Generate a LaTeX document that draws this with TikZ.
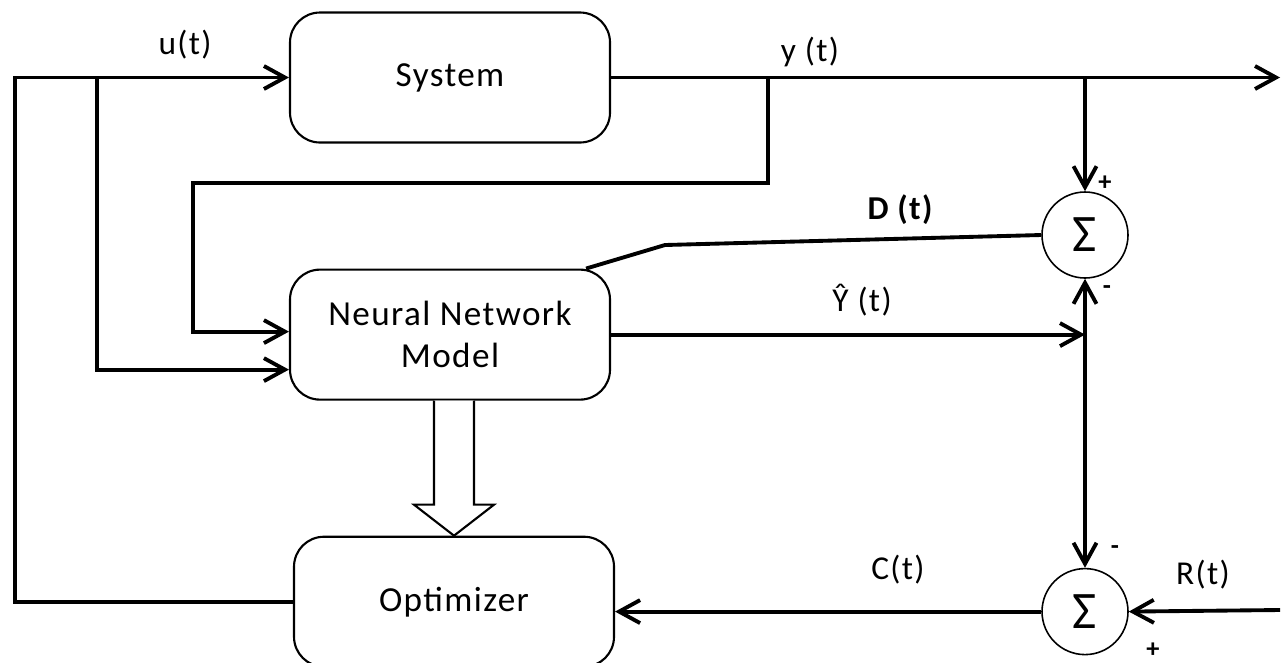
\documentclass[tikz,border=0pt]{standalone}
\usepackage{fontspec}
\setmainfont[LetterSpace=4]{Carlito}
\usetikzlibrary{positioning,calc,arrows.meta}

\begin{document}
\begin{tikzpicture}[auto, node distance=2.5cm,
    >={Straight Barb[length=0.42cm,width=0.46cm]},
    Block/.style={draw, line width=1.2pt, rounded corners=0.6cm,
        minimum width=6.4cm, minimum height=2.6cm, align=center,
        font=\fontsize{20}{24}\selectfont},
    Sum/.style={draw, circle, line width=0.9pt, minimum size=1.72cm,
        inner sep=0pt, font=\fontsize{30}{30}\selectfont},
    Signal/.style={line width=2.2pt},
    Lbl/.style={font=\fontsize{19}{23}\selectfont},
    Sign/.style={font=\fontsize{15}{15}\selectfont\bfseries}]
    \useasboundingbox (0,0) rectangle (25.76,-13.24);
    % Blocks
    \node [Block] (System) at (9.0,-1.55) {System};
    \node [Block,
        below=2.5cm of System
    ] (NNModel) {Neural Network\\Model};
    \node [Block,
        below=2.7cm of NNModel,
        xshift=0.08cm
    ] (Optimizer) {Optimizer};
    % Summing junctions
    \node [Sum] (Sum1) at (21.7,-4.7) {Σ};
    \node [Sum,
        below=5.78cm of Sum1
    ] (Sum2) {Σ};
    % Branch points and free ends
    \coordinate (uLeft) at (0.3,-1.55);
    \coordinate (uBranch) at (1.94,-1.55);
    \coordinate (yBranch) at (15.36,-1.55);
    \coordinate (yDown) at (21.7,-1.55);
    \coordinate (yOut) at (25.6,-1.55);
    \coordinate (rIn) at (25.6,-12.2);
    \coordinate (dKink) at (13.3,-4.9);
    % Signals
    \draw[Signal,->] (Optimizer.west) -| (uLeft) -- (System.west);
    \draw[Signal,->] (uBranch) |- ($(NNModel.west)+(0,-0.7)$);
    \draw[Signal,->] (System.east) -- (yOut);
    \draw[Signal,->] (yBranch) |- (3.86,-3.66) |- ($(NNModel.west)+(0,0.06)$);
    \draw[Signal,->] (yDown) -- (Sum1.north);
    \draw[Signal] ($(NNModel.north east)+(-0.5,0)$) -- (dKink) -- (Sum1.west);
    \draw[Signal,->] (NNModel.east) -- (Sum1.south |- NNModel.east);
    \draw[Signal,<->] (Sum1.south) -- (Sum2.north);
    \draw[Signal,->] (rIn) -- (Sum2.east);
    \draw[Signal,->] (Sum2.west) -- (Optimizer.east |- Sum2.west);
    % Hollow arrow from model to optimizer
    \draw[line width=1.2pt, fill=white]
        ($(Optimizer.north |- NNModel.south)+(-0.4,0)$) -- ($(Optimizer.north)+(-0.4,0.62)$)
        -- ++(-0.4,0) -- (Optimizer.north) -- ($(Optimizer.north)+(0.8,0.62)$)
        -- ++(-0.4,0) -- ($(Optimizer.north |- NNModel.south)+(0.4,0)$);
    % Labels
    \node [Lbl] (uLbl) at (3.7,-0.9) {u(t)};
    \node [Lbl] (yLbl) at (16.2,-1.04) {y (t)};
    \node [Lbl, font=\fontsize{19}{23}\selectfont\bfseries] (dLbl) at (18.0,-4.2) {D (t)};
    \node [Lbl] (yhLbl) at (17.24,-6.0) {Ŷ (t)};
    \node [Lbl] (cLbl) at (17.96,-11.4) {C(t)};
    \node [Lbl] (rLbl) at (24.06,-11.5) {R(t)};
    \node [Sign] (p1) at (22.1,-3.66) {+};
    \node [Sign] (m1) at (22.14,-5.8) {-};
    \node [Sign] (m2) at (22.3,-11.0) {-};
    \node [Sign] (p2) at (23.06,-13.0) {+};
\end{tikzpicture}
\end{document}
